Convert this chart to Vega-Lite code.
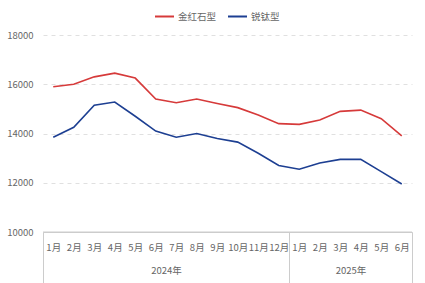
{
  "$schema": "https://vega.github.io/schema/vega-lite/v6.json",
  "autosize": "none",
  "width": 369,
  "height": 197,
  "padding": {"left": 43, "top": 35, "right": 13, "bottom": 51},
  "config": {
    "view": {"stroke": null},
    "font": "Noto Sans CJK SC",
    "axis": {"labelFont": "Noto Sans CJK SC", "labelColor": "#666", "labelFontSize": 9.5},
    "legend": {"labelFont": "Noto Sans CJK SC"}
  },
  "layer": [
    {
      "data": {
        "values": [
          {"date": "2024-01", "type": "金红石型", "price": 15900},
          {"date": "2024-02", "type": "金红石型", "price": 16000},
          {"date": "2024-03", "type": "金红石型", "price": 16300},
          {"date": "2024-04", "type": "金红石型", "price": 16450},
          {"date": "2024-05", "type": "金红石型", "price": 16250},
          {"date": "2024-06", "type": "金红石型", "price": 15400},
          {"date": "2024-07", "type": "金红石型", "price": 15250},
          {"date": "2024-08", "type": "金红石型", "price": 15400},
          {"date": "2024-09", "type": "金红石型", "price": 15220},
          {"date": "2024-10", "type": "金红石型", "price": 15050},
          {"date": "2024-11", "type": "金红石型", "price": 14750},
          {"date": "2024-12", "type": "金红石型", "price": 14400},
          {"date": "2025-01", "type": "金红石型", "price": 14370},
          {"date": "2025-02", "type": "金红石型", "price": 14550},
          {"date": "2025-03", "type": "金红石型", "price": 14900},
          {"date": "2025-04", "type": "金红石型", "price": 14950},
          {"date": "2025-05", "type": "金红石型", "price": 14600},
          {"date": "2025-06", "type": "金红石型", "price": 13900},
          {"date": "2024-01", "type": "锐钛型", "price": 13850},
          {"date": "2024-02", "type": "锐钛型", "price": 14250},
          {"date": "2024-03", "type": "锐钛型", "price": 15150},
          {"date": "2024-04", "type": "锐钛型", "price": 15280},
          {"date": "2024-05", "type": "锐钛型", "price": 14700},
          {"date": "2024-06", "type": "锐钛型", "price": 14100},
          {"date": "2024-07", "type": "锐钛型", "price": 13850},
          {"date": "2024-08", "type": "锐钛型", "price": 14000},
          {"date": "2024-09", "type": "锐钛型", "price": 13800},
          {"date": "2024-10", "type": "锐钛型", "price": 13650},
          {"date": "2024-11", "type": "锐钛型", "price": 13200},
          {"date": "2024-12", "type": "锐钛型", "price": 12700},
          {"date": "2025-01", "type": "锐钛型", "price": 12550},
          {"date": "2025-02", "type": "锐钛型", "price": 12800},
          {"date": "2025-03", "type": "锐钛型", "price": 12950},
          {"date": "2025-04", "type": "锐钛型", "price": 12950},
          {"date": "2025-05", "type": "锐钛型", "price": 12450},
          {"date": "2025-06", "type": "锐钛型", "price": 11950}
        ]
      },
      "mark": {"type": "line", "strokeWidth": 1.6},
      "encoding": {
        "x": {
          "field": "date",
          "type": "ordinal",
          "scale": {"type": "point", "padding": 0.5},
          "axis": {
            "title": null,
            "labelAngle": 0,
            "labelExpr": "toNumber(slice(datum.value, 5)) + '月'",
            "ticks": false,
            "domain": true,
            "domainColor": "#ccc",
            "labelPadding": 10,
            "grid": false
          }
        },
        "y": {
          "field": "price",
          "type": "quantitative",
          "scale": {"domain": [10000, 18000], "nice": false},
          "axis": {
            "title": null,
            "values": [10000, 12000, 14000, 16000, 18000],
            "format": "d",
            "domain": false,
            "ticks": false,
            "labelPadding": 10,
            "gridDash": [4, 4],
            "gridColor": "#e0e0e0"
          }
        },
        "color": {
          "field": "type",
          "type": "nominal",
          "scale": {"domain": ["金红石型", "锐钛型"], "range": ["#d63a3a", "#1d3f92"]},
          "legend": {
            "title": null,
            "orient": "none",
            "direction": "horizontal",
            "legendX": 111,
            "legendY": -29,
            "symbolType": "stroke",
            "symbolSize": 361,
            "symbolStrokeWidth": 2,
            "labelFontSize": 9.5,
            "labelColor": "#666",
            "labelOffset": 3,
            "columnPadding": 7
          }
        }
      }
    },
    {
      "data": {
        "values": [
          {"year": "2024年", "start": 0, "end": 12},
          {"year": "2025年", "start": 12, "end": 18}
        ]
      },
      "mark": {"type": "rule", "color": "#ccc"},
      "encoding": {
        "x": {
          "field": "start",
          "type": "quantitative",
          "scale": {"domain": [0, 18], "nice": false, "zero": true},
          "axis": {
            "orient": "bottom",
            "offset": 0,
            "title": null,
            "values": [0, 6, 12, 15, 18],
            "labelExpr": "datum.value == 6 ? '2024年' : datum.value == 15 ? '2025年' : ''",
            "domain": false,
            "grid": false,
            "tickSize": 51,
            "tickColor": {"condition": {"test": "datum.value == 6 || datum.value == 15", "value": "transparent"}, "value": "#ccc"},
            "labelPadding": -18,
            "labelFlush": false
          }
        },
        "x2": {"field": "end"},
        "y": {"datum": 10000}
      }
    }
  ],
  "resolve": {"scale": {"x": "independent"}, "axis": {"x": "independent"}}
}
